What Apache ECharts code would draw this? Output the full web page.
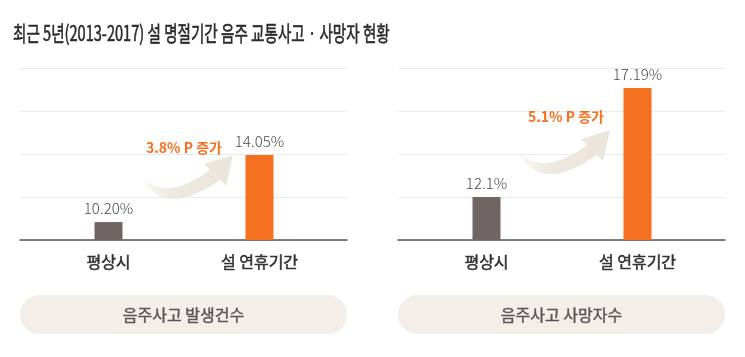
<!DOCTYPE html>
<html>
<head>
<meta charset="utf-8">
<script src="https://cdn.jsdelivr.net/npm/echarts@6/dist/echarts.min.js"></script>
<style>
html,body{margin:0;padding:0;background:#fff;}
#c{width:745px;height:357px;}
</style>
</head>
<body>
<div id="c"></div>
<script>
// ---- data ----
var chartTitle = '최근 5년(2013-2017) 설 명절기간 음주 교통사고 · 사망자 현황';
var categories = ['평상시', '설 연휴기간'];
var accidentRates = [10.20, 14.05];
var accidentLabels = ['10.20%', '14.05%'];
var deathRates = [12.1, 17.19];
var deathLabels = ['12.1%', '17.19%'];
var increaseLabels = ['3.8% P 증가', '5.1% P 증가'];
var panelNames = ['음주사고 발생건수', '음주사고 사망자수'];
// truncated value-axis ranges
var accidentAxis = [9.17, 19.05];
var deathAxis = [10.09, 18.13];
var guideTicks = [0, 1, 2, 3, 4];

var FONT = '"Noto Sans CJK KR", "Noto Sans", sans-serif';
var GRAY = '#716564';
var ORANGE = '#f5701f';

var chart = echarts.init(document.getElementById('c'), null, {renderer: 'canvas'});

function barSeries(idx, values, labels) {
  return {
    type: 'bar',
    xAxisIndex: idx, yAxisIndex: idx,
    barWidth: 28,
    data: values.map(function (v, i) {
      return {value: v, itemStyle: {color: i === 0 ? GRAY : ORANGE}};
    }),
    label: {
      show: true, position: 'top', distance: 6,
      fontFamily: FONT, fontSize: 15, fontWeight: 300, color: '#4a4a4a',
      formatter: function (p) { return labels[p.dataIndex]; }
    },
    silent: true
  };
}

// decorative curved arrow outline (sampled quadratic curves)
function quad(p0, c, p1, n, out) {
  for (var i = 0; i <= n; i++) {
    var t = i / n, a = (1 - t) * (1 - t), b = 2 * (1 - t) * t, d = t * t;
    out.push([a * p0[0] + b * c[0] + d * p1[0], a * p0[1] + b * c[1] + d * p1[1]]);
  }
}
function arrowPoints(dx, dy) {
  var pts = [];
  quad([142, 176], [165, 203], [210, 170], 16, pts);
  pts.push([204, 164], [233, 155], [226, 186], [220, 180]);
  quad([220, 180], [162, 220], [142, 176], 16, pts);
  return pts.map(function (p) { return [p[0] + dx, p[1] + dy]; });
}
var arrowFill = {
  type: 'linear', x: 0, y: 0, x2: 1, y2: 0,
  colorStops: [
    {offset: 0, color: 'rgba(240,234,226,0.4)'},
    {offset: 0.35, color: 'rgba(238,231,222,0.95)'},
    {offset: 1, color: '#ece5db'}
  ]
};

var catLabel = {margin: 14, fontFamily: FONT, fontSize: 16, color: '#333',
  textBorderColor: '#333', textBorderWidth: 0.5};

var option = {
  backgroundColor: '#fff',
  animation: false,
  grid: [
    {left: 20, width: 327, top: 68, height: 172},
    {left: 398, width: 327, top: 68, height: 172},
    {left: 33, width: 302, top: 68, height: 172},
    {left: 411, width: 302, top: 68, height: 172}
  ],
  xAxis: [
    {gridIndex: 0, type: 'value', min: 0, max: 1, show: true,
      axisLine: {show: true, lineStyle: {color: '#555', width: 1.5}},
      axisTick: {show: false}, axisLabel: {show: false}, splitLine: {show: false}},
    {gridIndex: 1, type: 'value', min: 0, max: 1, show: true,
      axisLine: {show: true, lineStyle: {color: '#555', width: 1.5}},
      axisTick: {show: false}, axisLabel: {show: false}, splitLine: {show: false}},
    {gridIndex: 2, type: 'category', data: categories,
      axisLine: {show: false}, axisTick: {show: false}, axisLabel: catLabel},
    {gridIndex: 3, type: 'category', data: categories,
      axisLine: {show: false}, axisTick: {show: false}, axisLabel: catLabel}
  ],
  yAxis: [
    {gridIndex: 0, type: 'value', min: guideTicks[0], max: guideTicks[guideTicks.length - 1], interval: 1,
      axisLine: {show: false}, axisTick: {show: false}, axisLabel: {show: false},
      splitLine: {show: true, lineStyle: {color: '#ebebeb', width: 1}}},
    {gridIndex: 1, type: 'value', min: guideTicks[0], max: guideTicks[guideTicks.length - 1], interval: 1,
      axisLine: {show: false}, axisTick: {show: false}, axisLabel: {show: false},
      splitLine: {show: true, lineStyle: {color: '#ebebeb', width: 1}}},
    {gridIndex: 2, type: 'value', min: accidentAxis[0], max: accidentAxis[1],
      axisLine: {show: false}, axisTick: {show: false}, axisLabel: {show: false}, splitLine: {show: false}},
    {gridIndex: 3, type: 'value', min: deathAxis[0], max: deathAxis[1],
      axisLine: {show: false}, axisTick: {show: false}, axisLabel: {show: false}, splitLine: {show: false}}
  ],
  series: [
    barSeries(2, accidentRates, accidentLabels),
    barSeries(3, deathRates, deathLabels)
  ],
  graphic: [
    {type: 'text', x: 13, y: 33, scaleX: 0.694, z: 10,
      style: {text: chartTitle, font: '21px ' + FONT, fill: '#2b2b2b', stroke: '#2b2b2b', lineWidth: 0.6,
        textAlign: 'left', textVerticalAlign: 'middle'}},
    {type: 'polygon', z: 1, shape: {points: arrowPoints(0, 0)}, style: {fill: arrowFill}},
    {type: 'polygon', z: 1, shape: {points: arrowPoints(377, -25)}, style: {fill: arrowFill}},
    {type: 'text', x: 184, y: 148, z: 10,
      style: {text: increaseLabels[0], font: 'bold 14px ' + FONT, fill: ORANGE, textAlign: 'center', textVerticalAlign: 'middle'}},
    {type: 'text', x: 566, y: 117, z: 10,
      style: {text: increaseLabels[1], font: 'bold 14px ' + FONT, fill: ORANGE, textAlign: 'center', textVerticalAlign: 'middle'}},
    {type: 'rect', shape: {x: 20, y: 295, width: 327, height: 39, r: 19.5}, style: {fill: '#f4eee8'}},
    {type: 'rect', shape: {x: 398, y: 295, width: 327, height: 39, r: 19.5}, style: {fill: '#f4eee8'}},
    {type: 'text', x: 183.5, y: 314.5, z: 10,
      style: {text: panelNames[0], font: '16px ' + FONT, fill: '#555', stroke: '#555', lineWidth: 0.4,
        textAlign: 'center', textVerticalAlign: 'middle'}},
    {type: 'text', x: 561.5, y: 314.5, z: 10,
      style: {text: panelNames[1], font: '16px ' + FONT, fill: '#555', stroke: '#555', lineWidth: 0.4,
        textAlign: 'center', textVerticalAlign: 'middle'}}
  ]
};
chart.setOption(option);
</script>
</body>
</html>
